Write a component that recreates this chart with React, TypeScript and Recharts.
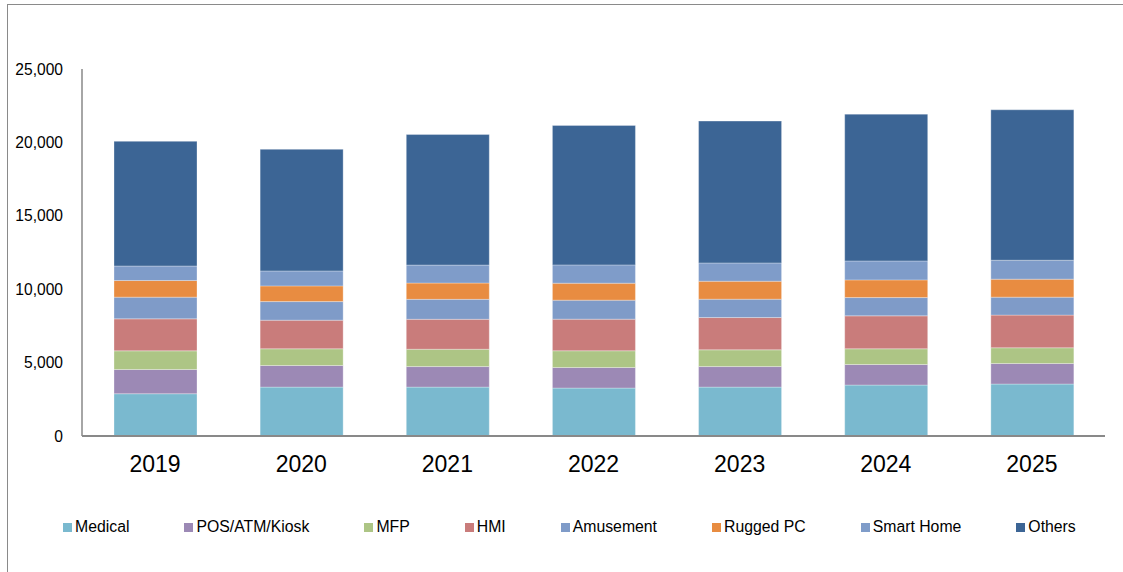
import React from 'react';
import { BarChart, Bar, XAxis, YAxis, Legend } from 'recharts';

const years = ['2019', '2020', '2021', '2022', '2023', '2024', '2025'];
const medical = [2880, 3330, 3330, 3265, 3330, 3470, 3540];
const pos = [1650, 1470, 1400, 1400, 1400, 1400, 1400];
const mfp = [1270, 1140, 1180, 1140, 1140, 1070, 1070];
const hmi = [2180, 1950, 2040, 2155, 2200, 2245, 2225];
const amusement = [1480, 1265, 1360, 1295, 1250, 1245, 1225];
const rugged = [1130, 1070, 1110, 1155, 1225, 1205, 1225];
const smartHome = [990, 1020, 1225, 1245, 1245, 1290, 1290];
const others = [8490, 8280, 8890, 9500, 9660, 10000, 10245];
const yTicks = [0, 5000, 10000, 15000, 20000, 25000];

const seriesNames = ['Medical', 'POS/ATM/Kiosk', 'MFP', 'HMI', 'Amusement', 'Rugged PC', 'Smart Home', 'Others'];
const seriesValues = [medical, pos, mfp, hmi, amusement, rugged, smartHome, others];
const seriesColors = ['#7AB9CF', '#9C89B5', '#ADC585', '#C97C7B', '#7F9BC8', '#E88C41', '#7F9CC9', '#3C6595'];

const data = years.map((y, i) => {
  const row: Record<string, string | number> = { year: y };
  seriesNames.forEach((n, k) => {
    row[n] = seriesValues[k][i];
  });
  return row;
});

const FONT = '"Liberation Sans", Arial, sans-serif';

const renderLegend = (props: any) => {
  const payload = [...(props.payload || [])].sort(
    (a: any, b: any) => seriesNames.indexOf(a.value) - seriesNames.indexOf(b.value)
  );
  return (
    <div style={{ display: 'flex', flexDirection: 'row', alignItems: 'center', height: 20, paddingLeft: 63, gap: 55, fontFamily: FONT }}>
      {payload.map((p: any) => (
        <div key={p.value} style={{ display: 'flex', alignItems: 'center' }}>
          <span style={{ display: 'inline-block', width: 9, height: 9, background: p.color, marginRight: 3 }} />
          <span style={{ fontSize: 15.8, color: '#000', whiteSpace: 'nowrap' }}>{p.value}</span>
        </div>
      ))}
    </div>
  );
};

export default function App() {
  return (
    <div style={{ position: 'absolute', left: 0, top: 0, width: 1123, height: 572, background: '#fff', overflow: 'hidden', fontFamily: FONT }}>
      <div style={{ position: 'absolute', left: 7, top: 4, width: 1200, height: 700, borderTop: '1.5px solid #8a8a8a', borderLeft: '1.5px solid #8a8a8a' }} />
      <div style={{ position: 'absolute', left: 0, top: 0 }}>
        <BarChart width={1123} height={572} data={data} margin={{ top: 69, right: 18, left: 0, bottom: 56 }} barSize={83}>
          <XAxis
            dataKey="year"
            height={60}
            tickLine={false}
            tickSize={0}
            tickMargin={20}
            axisLine={{ stroke: '#898989', strokeWidth: 2 }}
            tick={{ fontSize: 23, fill: '#000', fontFamily: FONT }}
            interval={0}
          />
          <YAxis
            width={82}
            domain={[0, 25000]}
            ticks={yTicks}
            tickLine={false}
            tickSize={0}
            tickMargin={19}
            axisLine={{ stroke: '#898989', strokeWidth: 1.5 }}
            tick={{ fontSize: 15.6, fill: '#000', fontFamily: FONT }}
            tickFormatter={(v: number) => v.toLocaleString('en-US')}
            interval={0}
          />
          <Legend
            verticalAlign="bottom"
            itemSorter={null as any}
            content={renderLegend}
            wrapperStyle={{ top: 517, left: 0, width: 1123, bottom: 'auto' }}
          />
          {seriesNames.map((n, k) => (
            <Bar
              key={n}
              dataKey={n}
              name={n}
              stackId="a"
              fill={seriesColors[k]}
              stroke="#ffffff"
              strokeOpacity={0.5}
              strokeWidth={0.6}
              isAnimationActive={false}
            />
          ))}
        </BarChart>
      </div>
    </div>
  );
}
